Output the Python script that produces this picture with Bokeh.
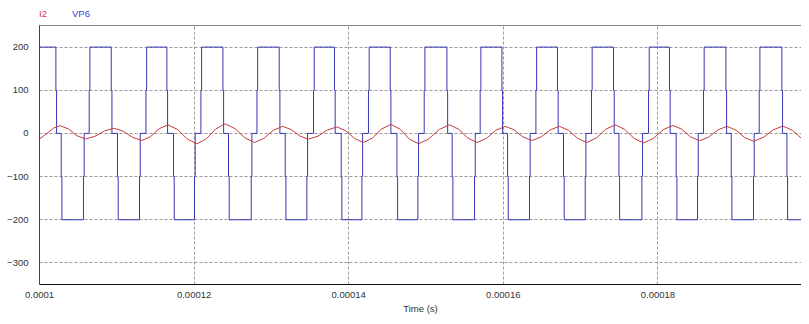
from bokeh.plotting import figure
from bokeh.models import (Range1d, FixedTicker, LinearAxis, Div,
                          PrintfTickFormatter, ColumnDataSource)
from bokeh.layouts import column
from bokeh.embed import file_html
from bokeh.resources import INLINE

# ---------------- data ----------------
series_names = ["I2", "VP6"]
x_ticks = [0.0001, 0.00012, 0.00014, 0.00016, 0.00018, 0.0002]
y_ticks = [-300, -200, -100, 0, 100, 200]

# VP6: stepped wave; switching instants in microseconds and the level after each switch
vp6_start_us = 100.0
vp6_end_us = 200.0
vp6_start_level = 200
vp6_edges_us = [102.12, 102.81, 105.69, 106.43,
                109.28, 110.09, 112.94, 113.77,
                116.48, 117.34, 120.05, 120.88,
                123.73, 124.45, 127.39, 128.13,
                131.01, 131.79, 134.59, 135.45,
                138.16, 139.03, 141.71, 142.56,
                145.37, 146.24, 148.95, 149.77,
                152.71, 153.39, 156.28, 157.01,
                159.82, 160.55, 163.39, 164.22,
                167.01, 167.79, 170.60, 171.41,
                174.26, 174.96, 177.93, 178.79,
                181.50, 182.37, 185.13, 185.90,
                188.80, 189.49, 192.37, 193.11,
                196.04, 196.69]
vp6_levels = [0, -200, 0, 200] * 13 + [0, -200]
vp6_step_us = 0.09  # dwell on the +/-100 intermediate level

# I2: current samples (time in microseconds, value)
i2_t_us = [100.00, 100.89, 101.79, 102.68, 103.75, 104.84, 105.91, 107.17, 108.41,
           109.66, 110.85, 112.06, 113.25, 114.37, 115.49, 116.61, 117.87, 119.11,
           120.36, 121.58, 122.81, 124.02, 125.29, 126.55, 127.81, 129.02, 130.23,
           131.44, 132.56, 133.68, 134.80, 136.03, 137.25, 138.48, 139.63, 140.76,
           141.92, 143.09, 144.28, 145.46, 146.65, 147.84, 149.03, 150.36, 151.71,
           153.04, 154.22, 155.41, 156.59, 157.80, 159.03, 160.25, 161.40, 162.55,
           163.70, 164.89, 166.08, 167.27, 168.45, 169.64, 170.82, 172.03, 173.26,
           174.48, 175.69, 176.92, 178.14, 179.41, 180.68, 181.94, 183.09, 184.23,
           185.38, 186.56, 187.75, 188.93, 190.08, 191.22, 192.37, 193.64, 194.91,
           196.17, 197.39, 198.62, 199.84]
i2_val = [-13, -1, 12, 18, 10.25, -5.25, -13, -6.75, 5.75,
          12, 4.9, -9.3, -16.4, -7.3, 10.9, 20, 9, -13,
          -24, -12.5, 10.5, 22, 11.25, -10.25, -21, -11.65, 7.05,
          16.4, 8.95, -5.95, -13.4, -6.3, 7.9, 15, 6, -12,
          -21, -10.5, 10.5, 21, 9.75, -12.75, -24, -13, 9,
          20, 9.75, -10.75, -21, -11.65, 7.05, 16.4, 8.2, -8.2,
          -16.4, -8.2, 8.2, 16.4, 7.05, -11.65, -21, -10.75, 9.75,
          20, 9.5, -11.5, -22, -11.8, 8.5, 18.7, 9.8, -8.1,
          -17, -8.65, 8.05, 16.4, 7.8, -9.4, -18, -9.25, 8.25,
          17, 7.25, -12.25, -22]

# ---------------- build step polyline ----------------
US = 1e-6
vx = [vp6_start_us * US]
vy = [vp6_start_level]
level = vp6_start_level
for t, new in zip(vp6_edges_us, vp6_levels):
    mid = (level + new) / 2
    vx += [t * US, t * US, (t + vp6_step_us) * US, (t + vp6_step_us) * US]
    vy += [level, mid, mid, new]
    level = new
vx.append(vp6_end_us * US)
vy.append(level)

vp6_src = ColumnDataSource(dict(t=vx, v=vy))
i2_src = ColumnDataSource(dict(t=[t * US for t in i2_t_us], v=i2_val))

FONT = "Liberation Sans"
FS = "9.5px"
I2_COLOR = "#c83a3a"
VP6_COLOR = "#3636b4"
W = 801

p = figure(width=W, height=291, output_backend="svg", toolbar_location=None,
           x_range=Range1d(0.0001, 0.00019858), y_range=Range1d(-350, 250),
           min_border_left=39, min_border_right=0, min_border_top=0,
           min_border_bottom=0, background_fill_color="white",
           border_fill_color="white", outline_line_color=None, margin=0)

p.line("t", "v", source=vp6_src, line_color=VP6_COLOR, line_width=1)
p.line("t", "v", source=i2_src, line_color=I2_COLOR, line_width=1)

# axes
xa = p.xaxis[0]
xa.ticker = FixedTicker(ticks=x_ticks)
xa.formatter = PrintfTickFormatter(format="%g")
xa.axis_label = "Time (s)"
ya = p.yaxis[0]
ya.ticker = FixedTicker(ticks=y_ticks)
for ax in (xa, ya):
    ax.major_tick_line_color = None
    ax.minor_tick_line_color = None
    ax.major_tick_out = 0
    ax.major_tick_in = 0
    ax.minor_tick_out = 0
    ax.minor_tick_in = 0
    ax.major_label_text_font = FONT
    ax.major_label_text_font_size = FS
    ax.major_label_text_color = "#333333"
    ax.axis_label_text_font = FONT
    ax.axis_label_text_font_size = FS
    ax.axis_label_text_font_style = "normal"
    ax.axis_label_text_color = "#333333"
xa.axis_line_color = "#111111"
ya.axis_line_color = "#444444"
xa.major_label_standoff = 7
xa.axis_label_standoff = 2
ya.major_label_standoff = 11

top = LinearAxis(ticker=FixedTicker(ticks=[]), axis_line_color="#858585",
                 major_tick_line_color=None, minor_tick_line_color=None,
                 major_tick_out=0, major_tick_in=0, minor_tick_out=0, minor_tick_in=0,
                 major_label_standoff=0, major_label_text_font_size="0px")
p.add_layout(top, "above")

# grid
p.xgrid.ticker = FixedTicker(ticks=x_ticks)
p.ygrid.ticker = FixedTicker(ticks=y_ticks)
for g in (p.xgrid, p.ygrid):
    g.grid_line_color = "#9a9a9a"
    g.grid_line_dash = "3 2"
    g.grid_line_width = 1

# legend line above the plot
legend_html = (
    f'<div style="position:relative;width:{W}px;height:25px;'
    "font-family:'Liberation Sans';font-size:9.5px;line-height:12px;\">"
    f'<span style="position:absolute;left:39px;top:8px;color:#d03c3c">{series_names[0]}</span>'
    f'<span style="position:absolute;left:72px;top:8px;color:#3c3cd2">{series_names[1]}</span>'
    '</div>'
)
legend = Div(text=legend_html, width=W, height=25, margin=0)

layout = column(legend, p, spacing=0, margin=0)
open("out.html", "w").write(file_html(layout, INLINE))
